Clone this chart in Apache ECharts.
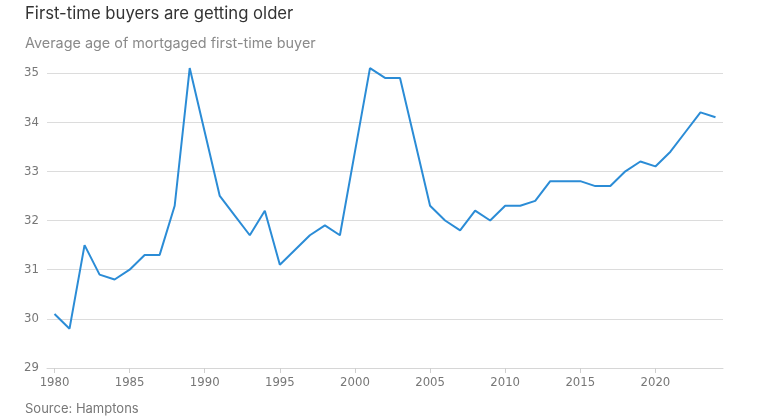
<!DOCTYPE html>
<html>
<head>
<meta charset="utf-8">
<script src="https://cdn.jsdelivr.net/npm/echarts@6/dist/echarts.min.js"></script>
<style>
html,body{margin:0;padding:0;background:#fff;}
#c{width:766px;height:420px;}
</style>
</head>
<body>
<div id="c"></div>
<script>
var years = [];
for (var y = 1980; y <= 2024; y++) years.push(String(y));
var ages = [
  30.1, 29.8, 31.5, 30.9, 30.8, 31.0, 31.3, 31.3, 32.3, 35.1,
  33.8, 32.5, 32.1, 31.7, 32.2, 31.1, 31.4, 31.7, 31.9, 31.7,
  33.4, 35.1, 34.9, 34.9, 33.6, 32.3, 32.0, 31.8, 32.2, 32.0,
  32.3, 32.3, 32.4, 32.8, 32.8, 32.8, 32.7, 32.7, 33.0, 33.2,
  33.1, 33.4, 33.8, 34.2, 34.1
];
var titleText = 'First-time buyers are getting older';
var subtitleText = 'Average age of mortgaged first-time buyer';
var sourceText = 'Source: Hamptons';

var chart = echarts.init(document.getElementById('c'), null, {renderer: 'canvas'});
var narrow = '"Liberation Sans Narrow","DejaVu Sans Condensed","Roboto",sans-serif';
var sans = 'Inter, "Open Sans", sans-serif';
chart.setOption({
  animation: false,
  backgroundColor: '#fff',
  title: [
    {text: titleText, left: 20, top: 0, textStyle: {fontFamily: sans, fontSize: 16.7, fontWeight: 'normal', color: '#333'}},
    {text: subtitleText, left: 20, top: 32, textStyle: {fontFamily: sans, fontSize: 14.4, fontWeight: 'normal', color: '#8a8a8a'}},
    {text: sourceText, left: 20, top: 398, textStyle: {fontFamily: sans, fontSize: 13, fontWeight: 'normal', color: '#777'}}
  ],
  grid: {left: 47, right: 43, top: 73, bottom: 52},
  xAxis: {
    type: 'category',
    data: years,
    boundaryGap: true,
    axisLine: {lineStyle: {color: '#d6d6d6'}},
    axisTick: {show: true, interval: 4, alignWithLabel: true, length: 5, lineStyle: {color: '#cfcfcf'}},
    axisLabel: {interval: 4, color: '#777', fontSize: 13, fontFamily: narrow, margin: 8},
    splitLine: {show: false}
  },
  yAxis: {
    type: 'value',
    min: 29, max: 35, interval: 1,
    axisLine: {show: false},
    axisTick: {show: false},
    axisLabel: {color: '#777', fontSize: 13, fontFamily: narrow, margin: 8},
    splitLine: {lineStyle: {color: '#dcdcdc', width: 1}}
  },
  series: [{
    type: 'line',
    data: ages,
    symbol: 'none',
    clip: false,
    lineStyle: {color: '#2b8cd6', width: 2},
    itemStyle: {color: '#2b8cd6'}
  }]
});
</script>
</body>
</html>
